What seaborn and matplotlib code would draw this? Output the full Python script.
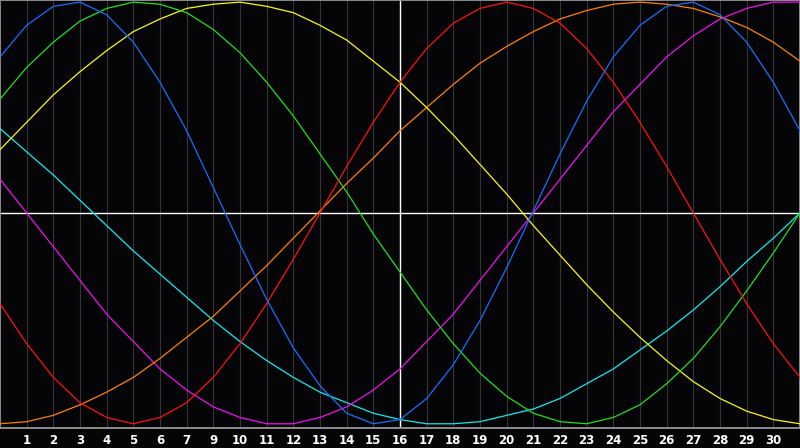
import matplotlib
matplotlib.use("Agg")
import matplotlib.pyplot as plt
import pandas as pd
import seaborn as sns

# biorhythm style chart, values in percent, one per day (x = 0..30)
days = list(range(31))
tick_pos = list(range(1, 30))
tick_labels = ["1", "2", "3", "4", "5", "6", "7", "9", "10", "11", "12", "13",
               "14", "15", "16", "17", "18", "19", "20", "21", "22", "23", "24",
               "25", "26", "27", "28", "29", "30"]
today = 15

physical = [74, 89, 98, 100, 94, 81, 62, 39, 12, -15, -41, -64, -82, -95, -100, -98,
            -88, -72, -51, -26, 1, 28, 53, 74, 89, 98, 100, 94, 81, 62, 39]
emotional = [-43, -62, -78, -90, -97, -100, -97, -90, -78, -62, -43, -22, 0, 22, 43, 62,
             78, 90, 97, 100, 97, 90, 78, 62, 43, 22, 0, -22, -43, -62, -78]
intellectual = [54, 69, 81, 91, 97, 100, 99, 95, 87, 76, 62, 46, 28, 10, -10, -28,
                -46, -62, -76, -87, -95, -99, -100, -97, -91, -81, -69, -54, -37, -19, 0]
intuitive = [16, 0, -16, -32, -48, -61, -74, -84, -92, -97, -100, -100, -97, -92, -84, -74,
             -61, -48, -32, -16, 0, 16, 32, 48, 61, 74, 84, 92, 97, 100, 100]
aesthetic = [30, 43, 56, 67, 77, 86, 92, 97, 99, 100, 98, 95, 89, 82, 72, 62,
             50, 37, 23, 9, -6, -20, -34, -47, -59, -70, -80, -88, -94, -98, -100]
awareness = [-100, -99, -96, -91, -85, -78, -69, -59, -49, -37, -25, -12, 1, 14, 26, 39,
             50, 61, 71, 79, 86, 92, 96, 99, 100, 99, 97, 93, 88, 81, 72]
spiritual = [40, 29, 18, 6, -6, -18, -29, -40, -51, -61, -70, -78, -85, -90, -95, -98,
             -100, -100, -99, -96, -93, -88, -81, -74, -65, -56, -46, -35, -23, -12, 0]

series = {
    "spiritual": spiritual,
    "intuitive": intuitive,
    "awareness": awareness,
    "aesthetic": aesthetic,
    "intellectual": intellectual,
    "emotional": emotional,
    "physical": physical,
}
colors = {
    "physical": "#1670ff",
    "emotional": "#ff1010",
    "intellectual": "#20e020",
    "intuitive": "#f010f0",
    "aesthetic": "#f8f810",
    "awareness": "#ff8000",
    "spiritual": "#10ecec",
}

df = pd.DataFrame({"day": days, **series}).melt(id_vars="day", var_name="cycle",
                                                 value_name="value")

sns.set_theme(style="dark")
bg = "#050508"
fig = plt.figure(figsize=(8, 4.48), dpi=100, facecolor=bg)
ax = fig.add_axes([0, 20 / 448, 1, 428 / 448])
ax.set_facecolor(bg)

ax.axhline(0, color="white", lw=1.0, zorder=1.5)
ax.axvline(today, color="white", lw=1.0, zorder=1.5)

sns.lineplot(data=df, x="day", y="value", hue="cycle", palette=colors,
             hue_order=list(series), lw=0.9, legend=False, ax=ax, zorder=3)

ax.set_xlim(0, 30)
ax.set_ylim(-102, 101)
ax.set_xticks(tick_pos)
ax.set_xticklabels(tick_labels)
ax.set_yticks([])
ax.grid(axis="x", color="#343436", lw=0.8)
ax.grid(axis="y", visible=False)
ax.tick_params(axis="x", length=0, pad=4, colors="white", labelsize=8.5)
for lab in ax.get_xticklabels():
    lab.set_fontweight("bold")
ax.set_xlabel("")
ax.set_ylabel("")
for s in ax.spines.values():
    s.set_visible(True)
    s.set_color("#8c8c8c")
    s.set_linewidth(1.4)

fig.savefig("out.png", dpi=100, facecolor=bg)
